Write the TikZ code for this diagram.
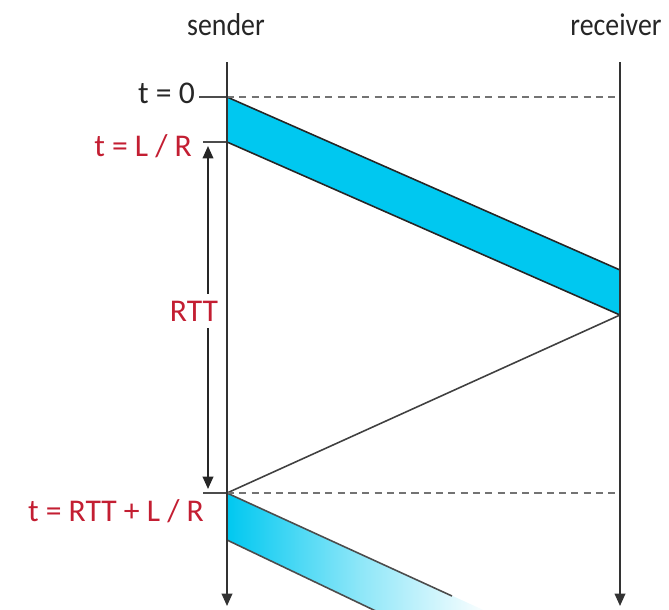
\documentclass[tikz,border=0pt]{standalone}
\usepackage{fontspec}
\setmainfont{Carlito}
\usetikzlibrary{arrows.meta}
\definecolor{band}{RGB}{0,200,240}
\definecolor{lbl}{RGB}{195,30,50}
\tikzset{
  timeline/.style={draw=black!80, line width=1pt, -{Triangle[length=7pt,width=6pt]}},
  tick/.style={draw=black!70, line width=1pt},
  guide/.style={draw=black!55, line width=1pt, dash pattern=on 4pt off 3pt},
  edge/.style={draw=black!85, line width=0.9pt},
  lab/.style={font=\fontsize{18}{20}\selectfont, inner sep=1pt, text=black!85},
  toplab/.style={font=\fontsize{18}{20}\selectfont, inner sep=1pt, text=black!85, xscale=0.88},
  redlab/.style={lab, text=lbl},
}
\begin{document}
\begin{tikzpicture}[x=0.02cm,y=-0.02cm]
\useasboundingbox (0,0) rectangle (669,609);
\clip (0,0) rectangle (669,609);
% top labels
\node[toplab] (sender) at (226,25) {sender};
\node[toplab] (receiver) at (616,25) {receiver};
% key points
\coordinate (sTop) at (227,62);
\coordinate (sBot) at (227,606);
\coordinate (rTop) at (620,62);
\coordinate (rBot) at (620,606);
\coordinate (a0) at (227,97);
\coordinate (a1) at (227,142);
\coordinate (b0) at (620,270);
\coordinate (b1) at (620,315);
\coordinate (c0) at (227,493);
\coordinate (c1) at (227,540);
\coordinate (d0) at (452,596);
\coordinate (d0x) at (490,613);
\coordinate (d1) at (380,613);
\coordinate (t0) at (199,97);
\coordinate (t1) at (203,142);
\coordinate (t2) at (203,493);
% first band
\fill[band] (a0) -- (b0) -- (b1) -- (a1) -- cycle;
\draw[edge] (a0) -- (b0);
\draw[edge] (a1) -- (b1);
% second (fading) band
\shade[left color=band, right color=white, middle color=band!45]
  (c0) -- (d0x) -- (d1) -- (c1) -- cycle;
\draw[edge, draw=black!70] (c0) -- (d0);
\draw[edge, draw=black!70] (c1) -- (d1);
% return line
\draw[edge, draw=black!75] (b1) -- (c0);
% dashed guides
\draw[guide] (a0) -- (620,97);
\draw[guide] (c0) -- (620,493);
% ticks
\draw[tick] (t0) -- (a0);
\draw[tick] (t1) -- (a1);
\draw[tick] (t2) -- (c0);
% timelines
\draw[timeline] (sTop) -- (sBot);
\draw[timeline] (rTop) -- (rBot);
% RTT arrow
\coordinate (rttA) at (208,146);
\coordinate (rttB) at (208,489);
\draw[line width=1pt, draw=black!85, {Triangle[length=7pt,width=6pt]}-{Triangle[length=7pt,width=6pt]}] (rttA) -- (rttB);
\node[redlab, fill=white, inner sep=4pt] (rtt) at (194,311) {RTT};
% time labels
\node[lab, anchor=east] (lt0) at (197,93) {t = 0};
\node[redlab, anchor=east] (lt1) at (194,146) {t = L / R};
\node[redlab, anchor=east] (lt2) at (206,511) {t = RTT + L / R};
\end{tikzpicture}
\end{document}
